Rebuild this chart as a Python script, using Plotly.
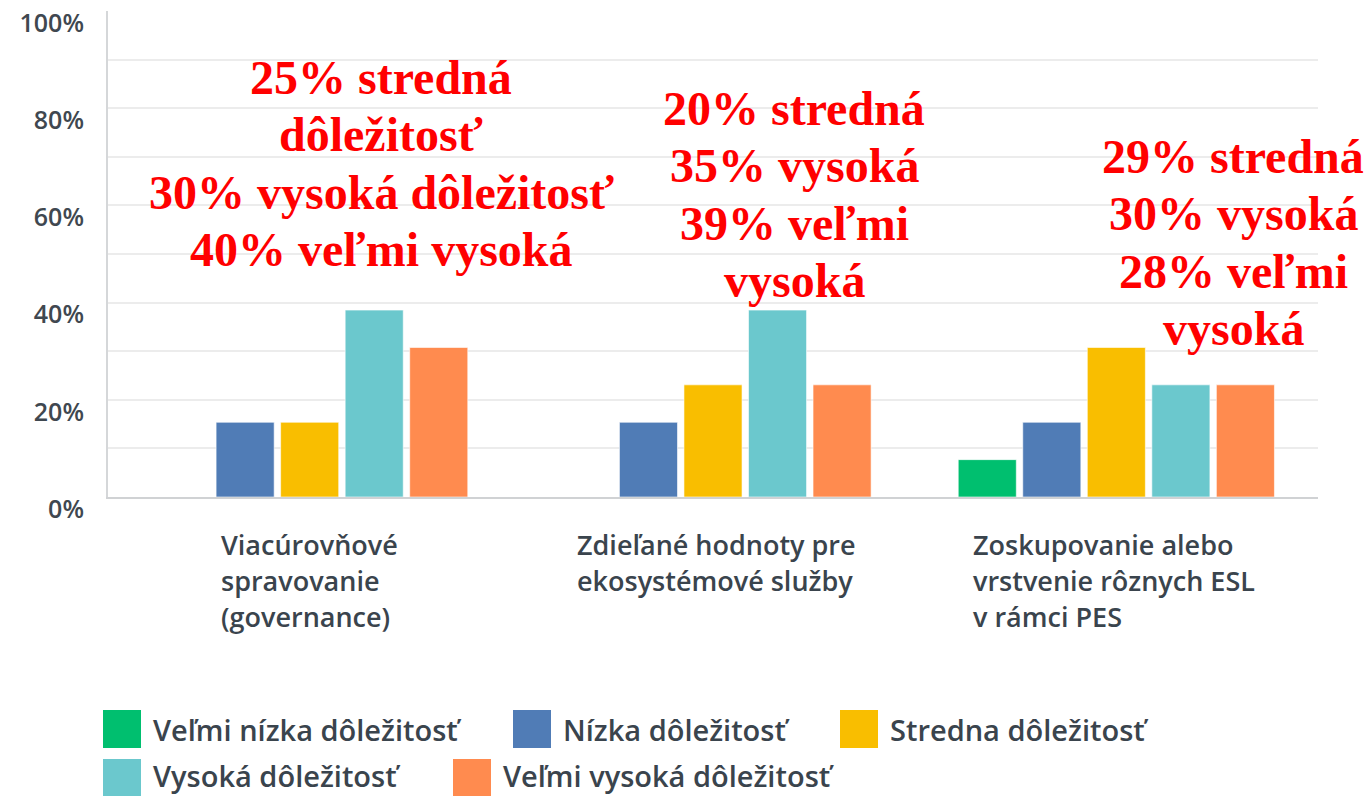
import plotly.graph_objects as go

categories = ["Viacúrovňové spravovanie (governance)",
              "Zdieľané hodnoty pre ekosystémové služby",
              "Zoskupovanie alebo vrstvenie rôznych ESL v rámci PES"]
category_lines = [["Viacúrovňové", "spravovanie", "(governance)"],
                  ["Zdieľané hodnoty pre", "ekosystémové služby"],
                  ["Zoskupovanie alebo", "vrstvenie rôznych ESL", "v rámci PES"]]

series_names = ["Veľmi nízka dôležitosť", "Nízka dôležitosť", "Stredna dôležitosť",
                "Vysoká dôležitosť", "Veľmi vysoká dôležitosť"]
velmi_nizka = [0.0, 0.0, 7.69]
nizka = [15.38, 15.38, 15.38]
stredna = [15.38, 23.08, 30.77]
vysoka = [38.46, 38.46, 23.08]
velmi_vysoka = [30.77, 23.08, 23.08]
series_values = [velmi_nizka, nizka, stredna, vysoka, velmi_vysoka]
colors = ["#00bf6f", "#507cb6", "#f9be00", "#6bc8cd", "#ff8b4f"]

note_lines = [["25% stredná", "dôležitosť", "30% vysoká dôležitosť", "40% veľmi vysoká"],
              ["20% stredná", "35% vysoká", "39% veľmi", "vysoká"],
              ["29% stredná", "30% vysoká", "28% veľmi", "vysoká"]]

W, H = 1369, 796
L, R, T, B = 108, 1318, 11, 497


def px(x):
    return (x - L) / (R - L)


def py(y):
    return (B - y) / (B - T)


fig = go.Figure()
for name, vals, col in zip(series_names, series_values, colors):
    fig.add_trace(go.Bar(x=categories, y=vals, name=name, marker_color=col,
                         marker_line=dict(width=1, color="rgba(255,255,255,0.6)"),
                         showlegend=False))

annotations = []
shapes = []
TXT = "#3a444d"
FONT = "Open Sans"

# category labels (left aligned lines)
cat_x = [219, 575, 971]
for lines, x0 in zip(category_lines, cat_x):
    for i, line in enumerate(lines):
        annotations.append(dict(text=line, x=px(x0), y=py(544 + 36 * i), xref="paper", yref="paper",
                                xanchor="left", yanchor="middle", showarrow=False,
                                font=dict(family=FONT, size=27, color=TXT, weight=600)))

# red notes
note_x = [381, 794, 1233]
note_y0 = [77, 108, 156]
for lines, cx, y0 in zip(note_lines, note_x, note_y0):
    for i, line in enumerate(lines):
        annotations.append(dict(text="<b>" + line + "</b>", x=px(cx), y=py(y0 + 57.5 * i),
                                xref="paper", yref="paper", xanchor="center", yanchor="middle",
                                showarrow=False,
                                font=dict(family="Liberation Serif", size=48, color="#ff0000")))

# custom legend
legend_pos = [(103, 729), (513, 729), (840, 729), (103, 778), (453, 778)]
text_y = [729, 729, 729, 775, 775]
for (lx, ly), ty, name, col in zip(legend_pos, text_y, series_names, colors):
    shapes.append(dict(type="rect", xref="paper", yref="paper",
                       x0=px(lx), x1=px(lx + 38), y0=py(ly + 19), y1=py(ly - 19),
                       fillcolor=col, line=dict(width=0)))
    annotations.append(dict(text=name, x=px(lx + 48), y=py(ty), xref="paper", yref="paper",
                            xanchor="left", yanchor="middle", showarrow=False,
                            font=dict(family=FONT, size=29, color=TXT, weight=600)))

fig.update_layout(
    width=W, height=H,
    margin=dict(l=L, r=W - R, t=T, b=H - B, pad=0, autoexpand=False),
    paper_bgcolor="white", plot_bgcolor="white",
    barmode="group", bargap=0.2, bargroupgap=0.1,
    annotations=annotations, shapes=shapes,
    showlegend=False,
)
fig.update_yaxes(range=[0, 100], tickmode="linear", tick0=0, dtick=20, ticksuffix="%",
                 showgrid=True, gridcolor="#ececec", gridwidth=2,
                 minor=dict(dtick=10, showgrid=True, gridcolor="#ececec", gridwidth=2),
                 showline=True, linecolor="#d5d7d9", linewidth=2, zeroline=False,
                 ticks="", ticklabelstandoff=17, ticklabelshift=12, automargin=False,
                 tickfont=dict(family=FONT, size=25, color="#3f4850", weight=600))
fig.update_xaxes(showticklabels=False, showline=True, linecolor="#d0d2d4", linewidth=2,
                 ticks="", showgrid=False, automargin=False)

fig.write_html("out.html")
